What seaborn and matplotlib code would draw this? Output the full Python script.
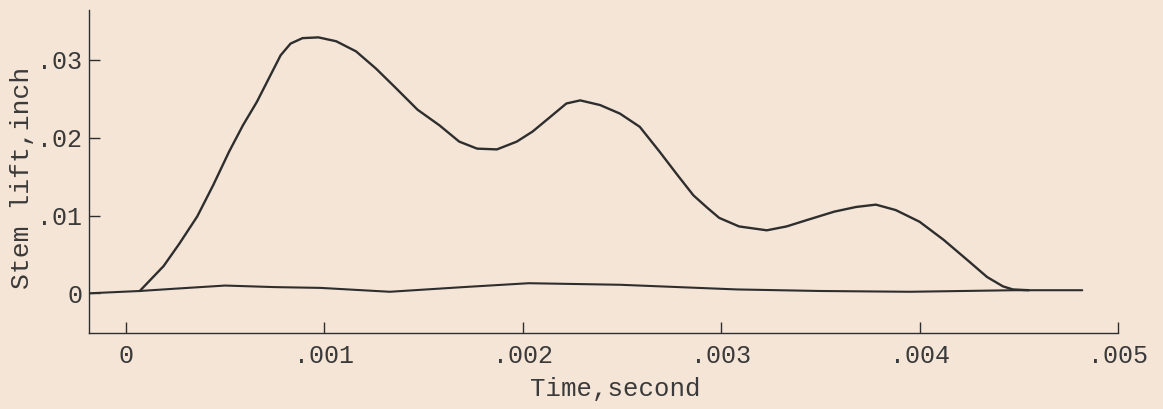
import pandas as pd
import matplotlib
matplotlib.use("Agg")
import matplotlib.pyplot as plt
import seaborn as sns

# Stem lift trace (time in seconds, lift in inches)
lift_time = [0.00007, 0.00019, 0.00027, 0.00036, 0.00044, 0.00052, 0.00059, 0.00066,
             0.00073, 0.00078, 0.00083, 0.00089, 0.00097, 0.00106, 0.00116, 0.00126,
             0.00136, 0.00147, 0.00158, 0.00168, 0.00177, 0.00187, 0.00197, 0.00205,
             0.00214, 0.00222, 0.00229, 0.00239, 0.00249, 0.00259, 0.00269, 0.00278,
             0.00286, 0.00293, 0.00299, 0.00309, 0.00323, 0.00333, 0.00343, 0.00357,
             0.00368, 0.00378, 0.00388, 0.00400, 0.00412, 0.00424, 0.00434, 0.00442,
             0.00447, 0.00455]
lift_value = [0.0003, 0.0035, 0.0064, 0.0099, 0.0139, 0.0182, 0.0216, 0.0246,
              0.0281, 0.0306, 0.0321, 0.0328, 0.0329, 0.0324, 0.0311, 0.0289,
              0.0264, 0.0236, 0.0216, 0.0195, 0.0186, 0.0185, 0.0195, 0.0208,
              0.0227, 0.0244, 0.0248, 0.0242, 0.0231, 0.0214, 0.0182, 0.0152,
              0.0126, 0.0110, 0.0097, 0.0086, 0.0081, 0.0086, 0.0094, 0.0105,
              0.0111, 0.0114, 0.0107, 0.0092, 0.0069, 0.0043, 0.0021, 0.0009,
              0.0005, 0.0004]

# zero (reference) line
base_time = [-0.00019, 0.00007, 0.00025, 0.00050, 0.00075, 0.00098, 0.00133, 0.00170,
             0.00203, 0.00249, 0.00308, 0.00350, 0.00395, 0.00448, 0.00482]
base_value = [0.0000, 0.0003, 0.0006, 0.0010, 0.0008, 0.0007, 0.0002, 0.0008,
              0.0013, 0.0011, 0.0005, 0.0003, 0.0002, 0.0004, 0.0004]

x_ticks = [0, 0.001, 0.002, 0.003, 0.004, 0.005]
x_labels = ["0", ".001", ".002", ".003", ".004", ".005"]
y_ticks = [0, 0.01, 0.02, 0.03]
y_labels = ["0", ".01", ".02", ".03"]

paper = "#f5e5d7"
ink = "#2e2e2e"

sns.set_theme(style="ticks")
plt.rcParams["font.family"] = ["Liberation Mono", "DejaVu Sans Mono"]

df_lift = pd.DataFrame({"t": lift_time, "lift": lift_value})
df_base = pd.DataFrame({"t": base_time, "lift": base_value})

fig = plt.figure(figsize=(11.63, 4.09), dpi=100, facecolor=paper)
ax = fig.add_axes([0.0765, 0.1858, 0.8848, 0.7898])
ax.set_facecolor(paper)

sns.lineplot(data=df_base, x="t", y="lift", ax=ax, color=ink, linewidth=1.5, sort=False,
             solid_joinstyle="round")
sns.lineplot(data=df_lift, x="t", y="lift", ax=ax, color=ink, linewidth=1.7, sort=False,
             solid_joinstyle="round")

ax.set_xlim(-0.000186, 0.005)
ax.set_ylim(-0.0051, 0.03642)

ax.set_xticks(x_ticks)
ax.set_xticklabels(x_labels)
ax.set_yticks(y_ticks)
ax.set_yticklabels(y_labels)

ax.tick_params(axis="both", direction="in", length=8, width=1.0, color=ink,
               labelsize=18, labelcolor="#3a3a3a")
ax.tick_params(axis="x", pad=8)
ax.tick_params(axis="y", pad=5)

sns.despine(ax=ax)
for side in ["left", "bottom"]:
    ax.spines[side].set_color(ink)
    ax.spines[side].set_linewidth(1.0)

ax.set_xlabel("Time,second", fontsize=18.5, color="#3a3a3a")
ax.set_ylabel("Stem lift,inch", fontsize=19, color="#3a3a3a")
ax.xaxis.set_label_coords(0.511, -0.135)
ax.yaxis.set_label_coords(-0.053, 0.48)

fig.savefig("out.png", dpi=100, facecolor=paper)
